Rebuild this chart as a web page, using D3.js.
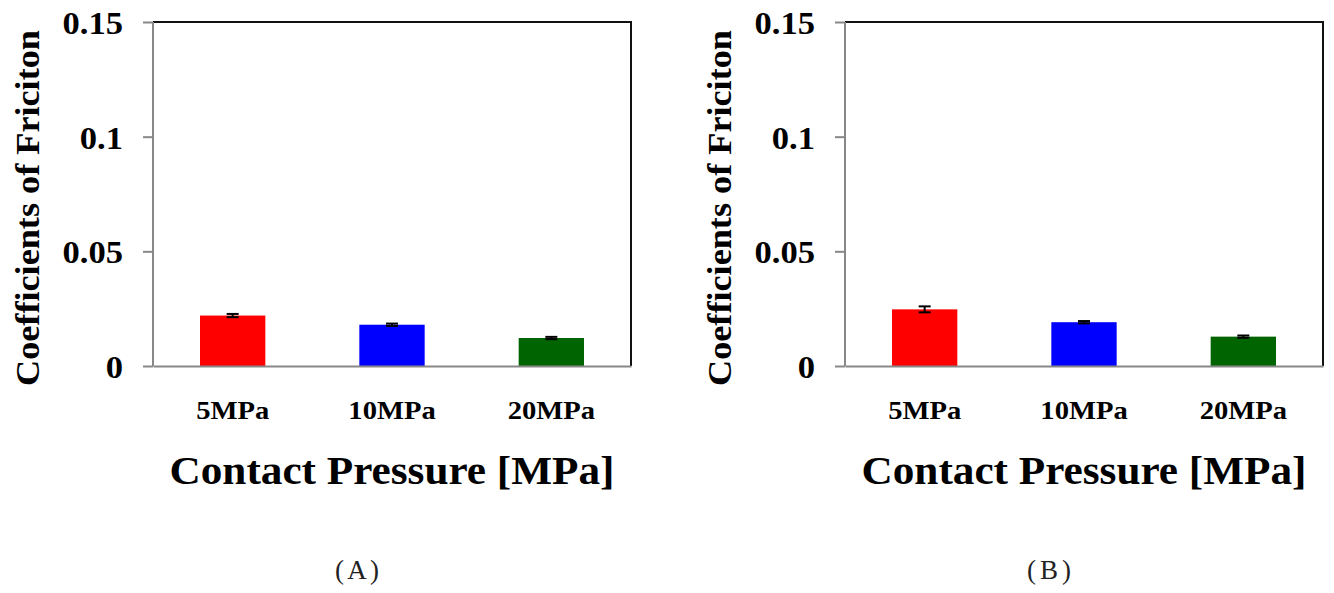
<!DOCTYPE html>
<html><head><meta charset="utf-8">
<script src="https://cdn.jsdelivr.net/npm/d3@7"></script>
<style>body{margin:0;background:#fff}svg{display:block}</style>
</head><body>
<svg id="c" width="1334" height="593"></svg>
<script>
const categories = ["5MPa", "10MPa", "20MPa"];
const valuesA = [0.0220, 0.0180, 0.0122];
const errorsA = [0.0007, 0.0005, 0.0005];
const valuesB = [0.0247, 0.0191, 0.0128];
const errorsB = [0.0013, 0.0005, 0.0005];
const yTicks = [0, 0.05, 0.1, 0.15];
const yTickLabels = ["0", "0.05", "0.1", "0.15"];
const barColors = ["#ff0000", "#0000ff", "#006400"];
const yTitle = "Coefficients of Friciton";
const xTitle = "Contact Pressure [MPa]";
const panelCaptions = ["(A)", "(B)"];

const svg = d3.select("#c");
const serif = "'Liberation Serif','Times New Roman',serif";

function panel(offsetX, values, errors, caption) {
  const left = 153 + offsetX, right = 631 + offsetX, top = 22, bottom = 366;
  const g = svg.append("g");
  const x = d3.scaleBand().domain(categories).range([left, right]).paddingInner(0.59).paddingOuter(0.295);
  const y = d3.scaleLinear().domain([0, 0.15]).range([bottom, top]);

  g.selectAll("rect.bar").data(values).join("rect")
    .attr("x", (d, i) => x(categories[i]))
    .attr("width", x.bandwidth())
    .attr("y", d => y(d))
    .attr("height", d => y(0) - y(d))
    .attr("fill", (d, i) => barColors[i]);

  const eb = g.selectAll("g.err").data(values).join("g");
  const cx = i => x(categories[i]) + x.bandwidth() / 2;
  eb.append("line").attr("x1", (d, i) => cx(i)).attr("x2", (d, i) => cx(i))
    .attr("y1", (d, i) => y(d - errors[i])).attr("y2", (d, i) => y(d + errors[i]))
    .attr("stroke", "#000").attr("stroke-width", 2);
  [-1, 1].forEach(s => {
    eb.append("line").attr("x1", (d, i) => cx(i) - 6).attr("x2", (d, i) => cx(i) + 6)
      .attr("y1", (d, i) => y(d + s * errors[i])).attr("y2", (d, i) => y(d + s * errors[i]))
      .attr("stroke", "#000").attr("stroke-width", 2);
  });

  g.append("path").attr("d", `M${left},${top}H${right}V${bottom}`)
    .attr("fill", "none").attr("stroke", "#111").attr("stroke-width", 2);

  const ya = g.append("g").attr("transform", `translate(${left},0)`)
    .call(d3.axisLeft(y).tickValues(yTicks).tickSize(10).tickFormat(""));
  ya.selectAll("path,line").attr("stroke", "#888").attr("stroke-width", 2);
  ya.select(".domain").attr("d", `M0,${top}V${bottom}`);

  const xa = g.append("g").attr("transform", `translate(0,${bottom})`)
    .call(d3.axisBottom(x).tickSize(0).tickFormat(""));
  xa.select(".domain").attr("stroke", "#888").attr("stroke-width", 2);

  g.selectAll("text.yt").data(yTicks).join("text")
    .attr("transform", d => `translate(${left - 30},${y(d) + 1}) scale(1.08,1)`)
    .attr("text-anchor", "end").attr("dominant-baseline", "central")
    .attr("font-family", serif).attr("font-weight", "bold").attr("font-size", 32)
    .text((d, i) => yTickLabels[i]);

  g.selectAll("text.xc").data(categories).join("text")
    .attr("transform", d => `translate(${x(d) + x.bandwidth() / 2},419) scale(1.1,1)`)
    .attr("text-anchor", "middle")
    .attr("font-family", serif).attr("font-weight", "bold").attr("font-size", 26)
    .text(d => d);

  g.append("text")
    .attr("x", (left + right) / 2).attr("y", 484)
    .attr("text-anchor", "middle")
    .attr("font-family", serif).attr("font-weight", "bold").attr("font-size", 41)
    .attr("textLength", 445).attr("lengthAdjust", "spacingAndGlyphs")
    .text(xTitle);

  g.append("text")
    .attr("transform", `translate(${39 + offsetX},208) rotate(-90)`)
    .attr("text-anchor", "middle")
    .attr("font-family", serif).attr("font-weight", "bold").attr("font-size", 33)
    .attr("textLength", 356).attr("lengthAdjust", "spacingAndGlyphs")
    .text(yTitle);

  g.append("text")
    .attr("x", 357 + offsetX).attr("y", 579)
    .attr("text-anchor", "middle")
    .attr("font-family", serif).attr("font-size", 27)
    .attr("textLength", 44).attr("lengthAdjust", "spacing")
    .attr("fill", "#222")
    .text(caption);
}

panel(0, valuesA, errorsA, panelCaptions[0]);
panel(692, valuesB, errorsB, panelCaptions[1]);
</script>
</body></html>
